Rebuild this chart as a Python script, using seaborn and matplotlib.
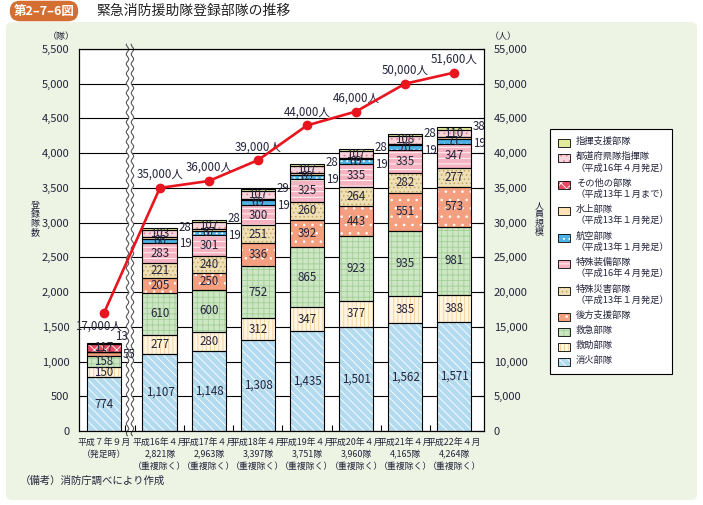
import numpy as np
import matplotlib
matplotlib.use("Agg")
import matplotlib.pyplot as plt
import seaborn as sns
from matplotlib.patches import FancyBboxPatch, Rectangle
from matplotlib.ticker import StrMethodFormatter

# 年次ラベル
periods = ["平成７年９月\n（発足時）",
           "平成16年４月\n2,821隊\n（重複除く）",
           "平成17年４月\n2,963隊\n（重複除く）",
           "平成18年４月\n3,397隊\n（重複除く）",
           "平成19年４月\n3,751隊\n（重複除く）",
           "平成20年４月\n3,960隊\n（重複除く）",
           "平成21年４月\n4,165隊\n（重複除く）",
           "平成22年４月\n4,264隊\n（重複除く）"]

# 部隊別の登録数（下から積み上げ順）
shoka = [774, 1107, 1148, 1308, 1435, 1501, 1562, 1571]      # 消火部隊
kyujo = [150, 277, 280, 312, 347, 377, 385, 388]             # 救助部隊
kyukyu = [158, 610, 600, 752, 865, 923, 935, 981]            # 救急部隊
kohou = [55, 205, 250, 336, 392, 443, 551, 573]              # 後方支援部隊
tokusai = [0, 221, 240, 251, 260, 264, 282, 277]             # 特殊災害部隊
tokuso = [0, 283, 301, 300, 325, 335, 335, 347]              # 特殊装備部隊
koku = [0, 66, 67, 69, 69, 69, 70, 71]                       # 航空部隊
suijo = [0, 19, 19, 19, 19, 19, 19, 19]                      # 水上部隊
sonota = [117, 0, 0, 0, 0, 0, 0, 0]                          # その他の部隊
shikitai = [0, 103, 107, 107, 107, 107, 108, 110]            # 都道府県隊指揮隊
shien = [13, 28, 28, 29, 28, 28, 28, 38]                     # 指揮支援部隊

# 人員規模
people = [17000, 35000, 36000, 39000, 44000, 46000, 50000, 51600]

legend_names = ["消火部隊", "救助部隊", "救急部隊", "後方支援部隊",
                "特殊災害部隊\n（平成13年１月発足）",
                "特殊装備部隊\n（平成16年４月発足）",
                "航空部隊\n（平成13年１月発足）",
                "水上部隊\n（平成13年１月発足）",
                "その他の部隊\n（平成13年１月まで）",
                "都道府県隊指揮隊\n（平成16年４月発足）",
                "指揮支援部隊"]

sns.set_theme(style="white")
plt.rcParams['font.family'] = ['Noto Sans CJK JP', 'DejaVu Sans']
plt.rcParams['hatch.linewidth'] = 0.6
txtc = '#24243c'

W, H = 703, 505
def px(x, y):
    return x / W, 1 - y / H

fig = plt.figure(figsize=(7.03, 5.05), dpi=100, facecolor='white')
fig.add_artist(FancyBboxPatch(px(6, 500), 691 / W, 478 / H,
                              boxstyle="round,pad=0,rounding_size=0.01",
                              transform=fig.transFigure, facecolor='#eef4e4',
                              edgecolor='none', zorder=-5))

ax = fig.add_axes([79 / W, 1 - 431 / H, 405 / W, 382 / H])
ax.set_facecolor('white')

xpos = np.r_[-0.14, np.arange(1, 8)]
width = 0.71

# (値, 塗り色, 模様色, 模様)
layers = [
    (shoka, '#b3dbef', 'white', '\\\\\\\\'),
    (kyujo, '#fff5e2', '#f4cf98', '||||'),
    (kyukyu, '#cde6c4', '#a3cf98', '+++'),
    (kohou, '#f4a080', 'white', '..'),
    (tokusai, '#eee0b4', '#c6a565', '....'),
    (tokuso, '#f5b3c1', 'white', '---'),
    (koku, '#4db2e5', 'white', '...'),
    (suijo, '#fde2b6', '#fde2b6', ''),
    (sonota, '#e84a62', 'white', 'xxx'),
    (shikitai, '#f9d6dc', '#e88798', '...'),
    (shien, '#e4ea9c', '#e4ea9c', ''),
]

bottom = np.zeros(len(xpos))
for li, (vals, face, hcol, hatch) in enumerate(layers):
    v = np.array(vals, dtype=float)
    ax.bar(xpos, v, width, bottom=bottom, color=face, edgecolor=hcol,
           hatch=hatch, linewidth=0, zorder=2)
    ax.bar(xpos, v, width, bottom=bottom, fill=False, edgecolor='black',
           linewidth=0.8, zorder=3)
    for i, (x, val, b) in enumerate(zip(xpos, v, bottom)):
        if val <= 0:
            continue
        right = x + width / 2
        if val >= 60:
            ax.text(x, b + val / 2, f"{int(val):,}", ha='center', va='center',
                    fontsize=8.3, color=txtc, zorder=6)
        elif li == 10 and i == 0:
            ax.text(right, b + val + 90, f"{int(val)}", ha='center', va='center',
                    fontsize=8.3, color=txtc, zorder=6)
        elif li == 10:
            ax.text(right + 0.03, b + val + 15, f"{int(val)}", ha='left', va='center',
                    fontsize=8.3, color=txtc, zorder=6)
        elif li == 7:
            ax.text(right + 0.03, b + val / 2 - 85, f"{int(val)}", ha='left', va='center',
                    fontsize=8.3, color=txtc, zorder=6)
        else:
            ax.text(right + 0.03, b + val / 2 - 10, f"{int(val)}", ha='left', va='center',
                    fontsize=8.3, color=txtc, zorder=6)
    bottom += v

# 軸の省略（波線）
xb = 0.39
yy = np.linspace(0, 5500, 500)
wav = 0.025 * np.sin(yy / 140 * 2 * np.pi)
ax.fill_betweenx(yy, xb - 0.05 + wav, xb + 0.05 + wav, color='white', zorder=4,
                 linewidth=0)
yy2 = np.linspace(-70, 5570, 560)
wav2 = 0.025 * np.sin(yy2 / 140 * 2 * np.pi)
for off in (-0.05, 0.05):
    ax.plot(xb + off + wav2, yy2, color='#555555', lw=0.8, zorder=5, clip_on=False)

ax.set_xlim(-0.65, 7.61)
ax.set_ylim(0, 5500)
ax.set_yticks(np.arange(0, 5501, 500))
ax.yaxis.set_major_formatter(StrMethodFormatter('{x:,.0f}'))
ax.yaxis.grid(True, color='black', linewidth=0.8)
ax.set_axisbelow(True)
ax.tick_params(axis='y', length=0, pad=7, labelsize=8, labelcolor=txtc)
ax.set_xticks(xpos)
ax.set_xticklabels(periods, fontsize=6.4, linespacing=1.45, color=txtc)
ax.set_xticks(np.r_[0.28, 0.5, np.arange(1.5, 7.5, 1)], minor=True)
ax.tick_params(axis='x', which='major', length=0, pad=5)
ax.tick_params(axis='x', which='minor', bottom=True, direction='in', length=4,
               width=0.8, color='black')
for s in ax.spines.values():
    s.set_color('black')
    s.set_linewidth(0.8)

# 人員規模（折れ線）
ax2 = ax.twinx()
sns.lineplot(x=xpos, y=people, ax=ax2, color='#e8141e', linewidth=1.9,
             marker='o', markersize=7, markeredgewidth=0, zorder=7)
ax2.set_ylim(0, 55000)
ax2.set_yticks(np.arange(0, 55001, 5000))
ax2.yaxis.set_major_formatter(StrMethodFormatter('{x:,.0f}'))
ax2.tick_params(axis='y', right=True, direction='in', length=4, width=0.8,
                color='black', pad=7, labelsize=8, labelcolor=txtc)
ax2.set_xlim(-0.65, 7.61)
for s in ax2.spines.values():
    s.set_color('black')
    s.set_linewidth(0.8)
for i, (x, p) in enumerate(zip(xpos, people)):
    if i == 0:
        ax2.annotate(f"{p:,}人", (x, p), xytext=(-4, -5), textcoords='offset points',
                     ha='center', va='top', fontsize=8.3, color=txtc)
    else:
        ax2.annotate(f"{p:,}人", (x, p), xytext=(0, 5), textcoords='offset points',
                     ha='center', va='bottom', fontsize=8.3, color=txtc)

# 凡例（手描き）
fig.add_artist(Rectangle(px(550, 374), 122 / W, 245 / H, transform=fig.transFigure,
                         facecolor='white', edgecolor='black', linewidth=0.8, zorder=1))
ly = 143
for (vals, face, hcol, hatch), name in zip(layers[::-1], legend_names[::-1]):
    fig.add_artist(Rectangle(px(558, ly + 4), 12 / W, 8 / H, transform=fig.transFigure,
                             facecolor=face, edgecolor=hcol, hatch=hatch,
                             linewidth=0, zorder=2))
    fig.add_artist(Rectangle(px(558, ly + 4), 12 / W, 8 / H, transform=fig.transFigure,
                             fill=False, edgecolor='black', linewidth=0.6, zorder=3))
    fig.text(*px(576, ly - 6), name, ha='left', va='top', fontsize=6.7,
             color=txtc, linespacing=1.3, zorder=4)
    ly += 15 if '\n' not in name else 26.5

# 軸ラベルなど
fig.text(*px(61, 37), "（隊）", ha='center', va='center', fontsize=6.5, color=txtc)
fig.text(*px(503, 37), "（人）", ha='center', va='center', fontsize=6.5, color=txtc)
fig.text(*px(35, 219), "登\n録\n隊\n数", ha='center', va='center', fontsize=6.5,
         color=txtc, linespacing=1.0)
fig.text(*px(539, 219), "人\n員\n規\n模", ha='center', va='center', fontsize=6.5,
         color=txtc, linespacing=1.0)
fig.text(*px(20, 481), "（備考）消防庁調べにより作成", ha='left', va='center',
         fontsize=7.5, color=txtc)

# タイトル
fig.text(*px(44, 11), "第2–7–6図", ha='center', va='center', fontsize=9,
         color='white', fontweight='bold',
         bbox=dict(boxstyle="round,pad=0.3,rounding_size=0.8", facecolor='#d46f31',
                   edgecolor='none'))
fig.text(*px(96, 11), "緊急消防援助隊登録部隊の推移", ha='left', va='center',
         fontsize=10, color='#222222')

fig.savefig("out.png", dpi=100, facecolor='white')
